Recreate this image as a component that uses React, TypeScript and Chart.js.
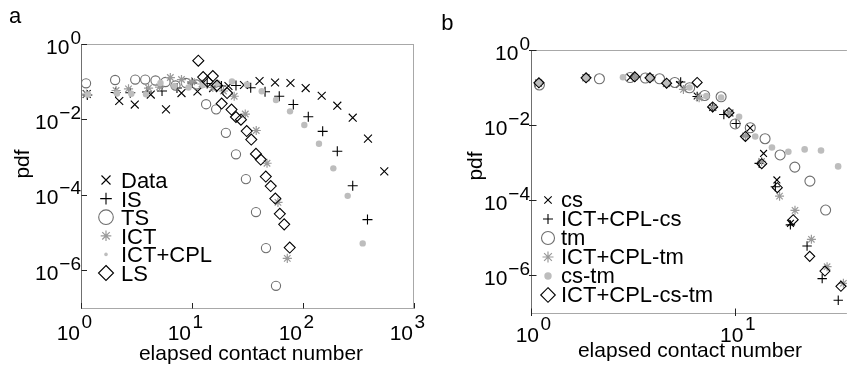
import React, { useEffect, useRef } from 'react';
import { Chart, registerables } from 'chart.js';

Chart.register(...registerables);

const FONT = '"Liberation Sans", Arial, Helvetica, sans-serif';

// ---------------- Panel a data ----------------
const dataX = [1.125, 2.21, 3.05, 4.25, 5.83, 8.04, 11.2, 15.5, 21.3, 29.4, 40.6, 56.0, 77.1, 105.7, 147.4, 203.8, 280.5, 385, 540];
const dataY = [0.0472, 0.0308, 0.0248, 0.0457, 0.0185, 0.0501, 0.055, 0.068, 0.0769, 0.0817, 0.1044, 0.0953, 0.0924, 0.068, 0.0425, 0.0231, 0.0111, 0.00311, 0.00042];

const isX = [1.14, 2.05, 2.78, 3.93, 5.37, 7.32, 10.06, 13.7, 18.4, 24.9, 33.8, 45.5, 61.1, 81.8, 111.6, 150.4, 203.7, 280.5, 381];
const isY = [0.0444, 0.0517, 0.0511, 0.0533, 0.0567, 0.068, 0.0924, 0.0896, 0.0769, 0.0793, 0.0689, 0.0543, 0.0412, 0.0248, 0.0118, 0.00483, 0.00143, 0.000174, 0.0000221];

const tsX = [1.11, 2.03, 3.08, 3.79, 4.69, 5.77, 7.10, 8.83, 11.0, 13.4, 16.5, 20.2, 24.9, 30.6, 37.7, 46.4, 57.1];
const tsY = [0.0907, 0.111, 0.1143, 0.1143, 0.1076, 0.0982, 0.0793, 0.0924, 0.0843, 0.0253, 0.0185, 0.00441, 0.00119, 0.000262, 0.000035, 0.00000388, 3.88e-7];

const ictX = [1.12, 2.07, 2.68, 4.06, 5.10, 6.38, 8.04, 9.94, 12.3, 15.4, 19.2, 24.0, 30.2, 37.9, 47.4, 59.5, 72.2];
const ictY = [0.0472, 0.0584, 0.0648, 0.068, 0.0723, 0.129, 0.1143, 0.100, 0.0869, 0.0702, 0.0567, 0.0412, 0.0139, 0.00508, 0.000689, 0.0000632, 0.00000207];

const cplX = [1.156, 2.11, 2.84, 3.85, 5.20, 6.96, 9.30, 12.6, 17.0, 22.9, 31.3, 42.5, 57.1, 76.4, 102.8, 139.3, 187.6, 252.7, 345];
const cplY = [0.0457, 0.0486, 0.0478, 0.0463, 0.0924, 0.0769, 0.0702, 0.0817, 0.0924, 0.1012, 0.0843, 0.056, 0.0327, 0.0164, 0.0071, 0.00227, 0.000505, 0.000094, 0.00000517];

const lsX = [11.4, 12.6, 13.8, 15.4, 16.8, 18.5, 20.7, 22.7, 24.9, 27.6, 31.1, 34.2, 37.7, 41.6, 46.2, 51.2, 56.3, 61.8, 67.7, 75.9];
const lsY = [0.3605, 0.133, 0.1012, 0.1416, 0.0793, 0.0264, 0.0501, 0.0183, 0.0116, 0.00982, 0.00492, 0.00293, 0.00122, 0.000863, 0.000305, 0.000171, 0.0000798, 0.0000315, 0.0000165, 0.0000040];

// ---------------- Panel b data ----------------
const csX = [1.089, 1.857, 3.058, 3.82, 4.597, 5.326, 6.499, 7.74, 9.40, 11.80, 13.73, 15.95, 18.59];
const csY = [0.1325, 0.1822, 0.1856, 0.1822, 0.1285, 0.1209, 0.0598, 0.0296, 0.0211, 0.00842, 0.00177, 0.000349, 0.0000243];

const cplCsX = [1.089, 1.857, 3.22, 3.82, 4.597, 5.397, 6.499, 7.73, 8.777, 10.08, 11.21, 13.07, 15.68, 18.57, 22.41, 26.57, 31.84];
const cplCsY = [0.1325, 0.1822, 0.1913, 0.1822, 0.1285, 0.141, 0.058, 0.0296, 0.01926, 0.0111, 0.00516, 0.000958, 0.00023, 0.0000222, 0.00000605, 8.22e-7, 2.18e-7];

const tmX = [1.099, 2.161, 3.054, 3.626, 4.255, 5.05, 5.97, 7.073, 8.51, 9.97, 11.82, 13.96, 16.54, 19.52, 23.14, 27.62];
const tmY = [0.1173, 0.1714, 0.1856, 0.18, 0.1714, 0.1367, 0.0988, 0.0617, 0.0569, 0.01076, 0.00853, 0.00435, 0.00161, 0.000764, 0.000324, 0.0000549];

const cplTmX = [1.089, 1.857, 3.22, 3.82, 4.597, 5.567, 6.644, 7.79, 9.31, 11.19, 13.43, 16.44, 19.56, 23.53, 28.08, 33.74];
const cplTmY = [0.1367, 0.1822, 0.1913, 0.1822, 0.1285, 0.089, 0.0535, 0.0296, 0.0211, 0.00516, 0.00108, 0.000129, 0.0000539, 0.00000912, 0.00000171, 6.17e-7];

const csTmX = [1.089, 1.857, 2.818, 3.82, 4.597, 5.963, 7.209, 8.51, 10.42, 12.50, 15.09, 18.15, 21.81, 26.22, 31.8];
const csTmY = [0.1325, 0.1822, 0.189, 0.1822, 0.1285, 0.1006, 0.0598, 0.0545, 0.01672, 0.005, 0.00255, 0.00196, 0.00226, 0.00212, 0.000797];

const cplCsTmX = [1.093, 1.859, 3.217, 3.818, 4.607, 6.499, 7.737, 9.297, 11.19, 13.45, 16.03, 19.17, 23.09, 27.41, 32.81];
const cplCsTmY = [0.1341, 0.1822, 0.1937, 0.1822, 0.1309, 0.1367, 0.0305, 0.0214, 0.005, 0.00094, 0.000216, 0.0000305, 0.00000322, 0.00000131, 5.13e-7];

// ---------------- Ticks ----------------
const xTickValsA = [1, 10, 100, 1000];
const xTickExpA = ['0', '1', '2', '3'];
const xTickValsB = [1, 10];
const xTickExpB = ['0', '1'];
const yTickVals = [1, 1e-2, 1e-4, 1e-6];
const yTickExp = ['0', '\u22122', '\u22124', '\u22126'];

const legendA = ['Data', 'IS', 'TS', 'ICT', 'ICT+CPL', 'LS'];
const legendB = ['cs', 'ICT+CPL-cs', 'tm', 'ICT+CPL-tm', 'cs-tm', 'ICT+CPL-cs-tm'];

type Marker = 'x' | 'plus' | 'circle' | 'star' | 'dot' | 'diamond';

interface SeriesDef {
  label: string;
  xs: number[];
  ys: number[];
  marker: Marker;
  color: string;
  r: number;
  lw: number;
}

const BLACK = '#000000';
const CIRC = '#6e6e6e';
const STAR = '#9a9a9a';
const DOT = '#bdbdbd';

const seriesA: SeriesDef[] = [
  { label: legendA[0], xs: dataX, ys: dataY, marker: 'x', color: BLACK, r: 5.6, lw: 1.1 },
  { label: legendA[1], xs: isX, ys: isY, marker: 'plus', color: BLACK, r: 5, lw: 1.1 },
  { label: legendA[2], xs: tsX, ys: tsY, marker: 'circle', color: CIRC, r: 4.6, lw: 1.1 },
  { label: legendA[3], xs: ictX, ys: ictY, marker: 'star', color: STAR, r: 4.6, lw: 1.2 },
  { label: legendA[4], xs: cplX, ys: cplY, marker: 'dot', color: DOT, r: 3.2, lw: 0 },
  { label: legendA[5], xs: lsX, ys: lsY, marker: 'diamond', color: BLACK, r: 5.5, lw: 1.1 },
];

const seriesB: SeriesDef[] = [
  { label: legendB[0], xs: csX, ys: csY, marker: 'x', color: BLACK, r: 4.8, lw: 1.1 },
  { label: legendB[1], xs: cplCsX, ys: cplCsY, marker: 'plus', color: BLACK, r: 4.7, lw: 1.1 },
  { label: legendB[2], xs: tmX, ys: tmY, marker: 'circle', color: CIRC, r: 5, lw: 1.1 },
  { label: legendB[3], xs: cplTmX, ys: cplTmY, marker: 'star', color: STAR, r: 4.5, lw: 1.2 },
  { label: legendB[4], xs: csTmX, ys: csTmY, marker: 'dot', color: DOT, r: 3.3, lw: 0 },
  { label: legendB[5], xs: cplCsTmX, ys: cplCsTmY, marker: 'diamond', color: BLACK, r: 5, lw: 1.1 },
];

const styleMap: Record<Marker, string> = {
  x: 'crossRot',
  plus: 'cross',
  circle: 'circle',
  star: 'star',
  dot: 'circle',
  diamond: 'rectRot',
};

interface PanelCfg {
  letter: string;
  letterX: number;
  letterY: number;
  pdfX: number;
  pdfY: number;
  titleX: number;
  titleY: number;
  xVals: number[];
  xExp: string[];
  xShift: number;
  xBaseY: number;
  xSupY: number;
  yRight: number;
  tickIn: number;
  tickOut: number;
  drawRight: boolean;
  legMarkerX: number;
  legTextX: number;
  legBase: number[];
  legDy: number;
  legSizes: number[];
}

const panelA: PanelCfg = {
  letter: 'a', letterX: 9, letterY: 23, pdfX: 23, pdfY: 164, titleX: 251, titleY: 360,
  xVals: xTickValsA, xExp: xTickExpA, xShift: -1, xBaseY: 340, xSupY: 328, yRight: 81,
  tickIn: 5.5, tickOut: 0, drawRight: true,
  legMarkerX: 106, legTextX: 121, legBase: [188, 206.6, 225.2, 243.8, 262.4, 281], legDy: -8,
  legSizes: [4.5, 5.8, 7.3, 5.3, 1.8, 7.5],
};

const panelB: PanelCfg = {
  letter: 'b', letterX: 15.3, letterY: 30, pdfX: 50, pdfY: 166, titleX: 264, titleY: 357,
  xVals: xTickValsB, xExp: xTickExpB, xShift: 8, xBaseY: 342, xSupY: 330, yRight: 104,
  tickIn: 5, tickOut: 2.5, drawRight: false,
  legMarkerX: 122, legTextX: 135, legBase: [207, 226, 245, 264, 283, 302], legDy: -7,
  legSizes: [3.7, 5, 6.5, 5.5, 3.7, 7.3],
};

function drawMarker(ctx: CanvasRenderingContext2D, m: Marker, x: number, y: number, s: number, color: string, lw: number) {
  ctx.save();
  ctx.strokeStyle = color;
  ctx.fillStyle = color;
  ctx.lineWidth = lw || 1;
  ctx.beginPath();
  if (m === 'x') {
    ctx.moveTo(x - s, y - s); ctx.lineTo(x + s, y + s);
    ctx.moveTo(x - s, y + s); ctx.lineTo(x + s, y - s);
    ctx.stroke();
  } else if (m === 'plus') {
    ctx.moveTo(x - s, y); ctx.lineTo(x + s, y);
    ctx.moveTo(x, y - s); ctx.lineTo(x, y + s);
    ctx.stroke();
  } else if (m === 'circle') {
    ctx.arc(x, y, s, 0, Math.PI * 2);
    ctx.stroke();
  } else if (m === 'star') {
    const d = s * Math.SQRT1_2;
    ctx.moveTo(x - s, y); ctx.lineTo(x + s, y);
    ctx.moveTo(x, y - s); ctx.lineTo(x, y + s);
    ctx.moveTo(x - d, y - d); ctx.lineTo(x + d, y + d);
    ctx.moveTo(x - d, y + d); ctx.lineTo(x + d, y - d);
    ctx.stroke();
  } else if (m === 'dot') {
    ctx.arc(x, y, s, 0, Math.PI * 2);
    ctx.fill();
  } else {
    ctx.moveTo(x, y - s); ctx.lineTo(x + s, y); ctx.lineTo(x, y + s); ctx.lineTo(x - s, y);
    ctx.closePath();
    ctx.stroke();
  }
  ctx.restore();
}

function decorPlugin(p: PanelCfg, series: SeriesDef[]) {
  return {
    id: 'decor' + p.letter,
    afterDraw(chart: any) {
      const ctx = chart.ctx as CanvasRenderingContext2D;
      const { left, right, top, bottom } = chart.chartArea;
      const xs = chart.scales.x;
      const ys = chart.scales.y;
      ctx.save();
      // frame
      ctx.lineWidth = 1;
      ctx.strokeStyle = '#a8a8a8';
      ctx.beginPath();
      ctx.moveTo(left, top + 0.5); ctx.lineTo(right, top + 0.5);
      if (p.drawRight) { ctx.moveTo(right - 0.5, top); ctx.lineTo(right - 0.5, bottom); }
      ctx.moveTo(left, bottom + 0.5); ctx.lineTo(right, bottom + 0.5);
      ctx.stroke();
      ctx.strokeStyle = '#707070';
      ctx.beginPath();
      ctx.moveTo(left + 0.5, top); ctx.lineTo(left + 0.5, bottom + 1);
      ctx.stroke();
      // ticks
      ctx.strokeStyle = '#222';
      ctx.beginPath();
      p.xVals.forEach((v) => {
        const px = Math.round(xs.getPixelForValue(v)) + 0.5;
        ctx.moveTo(px, bottom + 0.5 + p.tickOut);
        ctx.lineTo(px, bottom + 0.5 - p.tickIn);
      });
      yTickVals.forEach((v) => {
        const py = Math.round(ys.getPixelForValue(v)) + 0.5;
        ctx.moveTo(left + 0.5 - p.tickOut, py);
        ctx.lineTo(left + 0.5 + p.tickIn, py);
      });
      ctx.stroke();
      // tick labels
      const baseFont = '21px ' + FONT;
      const supFont = '19px ' + FONT;
      ctx.fillStyle = '#000';
      ctx.textBaseline = 'alphabetic';
      p.xVals.forEach((v, i) => {
        const px = xs.getPixelForValue(v);
        ctx.font = baseFont;
        ctx.textAlign = 'right';
        ctx.fillText('10', px + p.xShift, p.xBaseY);
        ctx.font = supFont;
        ctx.textAlign = 'left';
        ctx.fillText(p.xExp[i], px + p.xShift + 1.5, p.xSupY);
      });
      yTickVals.forEach((v, i) => {
        const py = ys.getPixelForValue(v);
        ctx.font = supFont;
        const ws = ctx.measureText(yTickExp[i]).width;
        ctx.font = baseFont;
        const wb = ctx.measureText('10').width;
        const x0 = p.yRight - ws - wb - 1;
        ctx.textAlign = 'left';
        ctx.fillText('10', x0, py + 9.5);
        ctx.font = supFont;
        ctx.fillText(yTickExp[i], x0 + wb + 1, py - 0.5);
      });
      // axis titles
      ctx.font = '21px ' + FONT;
      ctx.textAlign = 'center';
      ctx.fillText('elapsed contact number', p.titleX, p.titleY);
      ctx.save();
      ctx.translate(p.pdfX, p.pdfY);
      ctx.rotate(-Math.PI / 2);
      ctx.textBaseline = 'middle';
      ctx.fillText('pdf', 0, 0);
      ctx.restore();
      // panel letter
      ctx.font = '22px ' + FONT;
      ctx.textAlign = 'left';
      ctx.fillText(p.letter, p.letterX, p.letterY);
      // legend
      ctx.font = '22px ' + FONT;
      series.forEach((s, i) => {
        const base = p.legBase[i];
        drawMarker(ctx, s.marker, p.legMarkerX, base + p.legDy, p.legSizes[i], s.color, s.lw);
        ctx.fillStyle = '#000';
        ctx.textAlign = 'left';
        ctx.fillText(s.label, p.legTextX, base);
      });
      ctx.restore();
    },
  };
}

function makeConfig(series: SeriesDef[], p: PanelCfg, xmin: number, xmax: number, pad: any, yWidth: number, xHeight: number): any {
  return {
    type: 'scatter',
    data: {
      datasets: series.map((s, i) => ({
        label: s.label,
        data: s.xs.map((x, k) => ({ x, y: s.ys[k] })),
        showLine: false,
        pointStyle: styleMap[s.marker],
        pointRadius: s.r,
        pointHoverRadius: s.r,
        pointBorderWidth: s.marker === 'dot' ? 0 : s.lw,
        pointBorderColor: s.color,
        pointBackgroundColor: s.marker === 'dot' ? s.color : 'rgba(0,0,0,0)',
        borderColor: s.color,
        backgroundColor: s.marker === 'dot' ? s.color : 'rgba(0,0,0,0)',
        order: -i,
      })),
    },
    options: {
      responsive: false,
      animation: false,
      devicePixelRatio: 1,
      events: [],
      layout: { padding: pad },
      plugins: { legend: { display: false }, tooltip: { enabled: false }, title: { display: false } },
      scales: {
        x: {
          type: 'logarithmic',
          min: xmin,
          max: xmax,
          grid: { display: false },
          border: { display: false },
          ticks: { display: false },
          afterFit: (sc: any) => { sc.height = xHeight; },
        },
        y: {
          type: 'logarithmic',
          min: 1e-7,
          max: 1,
          grid: { display: false },
          border: { display: false },
          ticks: { display: false },
          afterFit: (sc: any) => { sc.width = yWidth; },
        },
      },
    },
    plugins: [decorPlugin(p, series)],
  };
}

export default function App() {
  const refA = useRef<HTMLCanvasElement>(null);
  const refB = useRef<HTMLCanvasElement>(null);
  useEffect(() => {
    const a = new Chart(refA.current!, makeConfig(seriesA, panelA, 1, 1000, { left: 0, top: 44, right: 440 - 414, bottom: 0 }, 81, 365 - 308));
    const b = new Chart(refB.current!, makeConfig(seriesB, panelB, 1, 35.1, { left: 0, top: 50, right: 0, bottom: 0 }, 105, 365 - 313));
    return () => { a.destroy(); b.destroy(); };
  }, []);
  return (
    <div style={{ position: 'fixed', left: 0, top: 0, width: 853, height: 365, background: '#ffffff', overflow: 'hidden' }}>
      <canvas ref={refA} width={440} height={365} style={{ position: 'absolute', left: 0, top: 0, width: 440, height: 365 }} />
      <canvas ref={refB} width={427} height={365} style={{ position: 'absolute', left: 426, top: 0, width: 427, height: 365 }} />
    </div>
  );
}
